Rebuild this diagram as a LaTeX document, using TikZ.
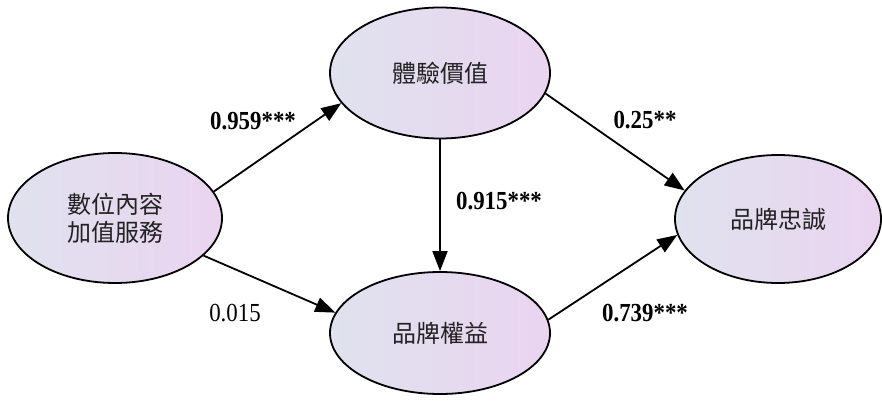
\documentclass[tikz,border=0pt]{standalone}
\usepackage{fontspec}
\setmainfont{Liberation Serif}
\newfontfamily\coeffont[FakeStretch=0.88]{Liberation Serif}
\newfontfamily\cjk{Noto Sans CJK TC}
\usetikzlibrary{shapes.geometric,arrows.meta}
\definecolor{lblue}{HTML}{E0E2EE}
\definecolor{lpurp}{HTML}{EAD4F0}
\definecolor{txt}{HTML}{222222}
\tikzset{
  var/.style={ellipse, draw=black, line width=1.8pt, left color=lblue, right color=lpurp,
    inner sep=0pt, font=\cjk\fontsize{24}{28}\selectfont, text=txt, align=center},
  path/.style={line width=1.8pt, -{Triangle[length=20pt,width=15pt]}},
  coef/.style={font=\coeffont\fontsize{26}{30}\selectfont\bfseries},
  coefn/.style={font=\coeffont\fontsize{26}{30}\selectfont}
}
\begin{document}
\begin{tikzpicture}[x=1pt,y=-1pt]
\useasboundingbox (0,0) rectangle (882,403);
\node[var, minimum width=214pt, minimum height=130pt] (l) at (115,218) {數位內容\\加值服務};
\node[var, minimum width=220pt, minimum height=131pt] (t) at (440,73) {體驗價值};
\node[var, minimum width=220pt, minimum height=122pt] (b) at (440,333) {品牌權益};
\node[var, minimum width=206pt, minimum height=128pt] (r) at (778,219) {品牌忠誠};
\draw[path] (l.15) -- (t.197);
\draw[path] (l.-23) -- (b.169);
\draw[path] (t.south) -- (b.north);
\draw[path] (t.-11) -- (r.163);
\draw[path] (b.7) -- (r.189);
\node[coef] (c1) at (253,121) {0.959***};
\node[coef] (c2) at (499,201) {0.915***};
\node[coef] (c3) at (645,120) {0.25**};
\node[coef] (c4) at (645,313) {0.739***};
\node[coefn] (c5) at (235,313) {0.015};
\end{tikzpicture}
\end{document}
